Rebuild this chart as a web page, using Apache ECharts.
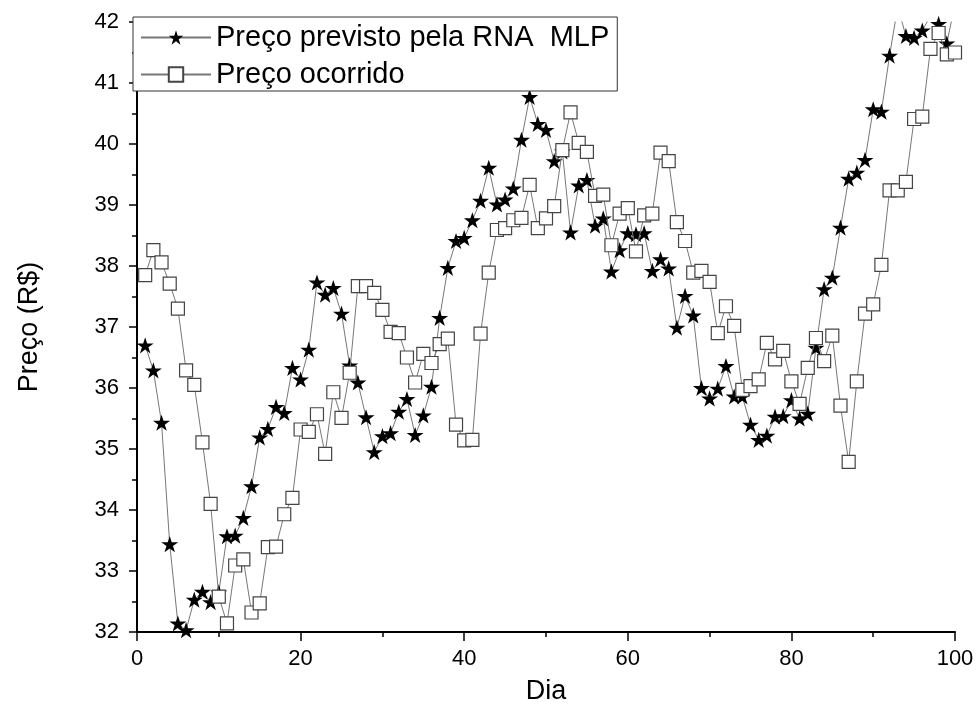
<!DOCTYPE html>
<html>
<head>
<meta charset="utf-8">
<script src="https://cdn.jsdelivr.net/npm/echarts@6/dist/echarts.min.js"></script>
<style>
html,body{margin:0;padding:0;background:#fff;}
#chart{width:980px;height:725px;}
</style>
</head>
<body>
<div id="chart"></div>
<script>
const days = [1,2,3,4,5,6,7,8,9,10,11,12,13,14,15,16,17,18,19,20,
  21,22,23,24,25,26,27,28,29,30,31,32,33,34,35,36,37,38,39,40,
  41,42,43,44,45,46,47,48,49,50,51,52,53,54,55,56,57,58,59,60,
  61,62,63,64,65,66,67,68,69,70,71,72,73,74,75,76,77,78,79,80,
  81,82,83,84,85,86,87,88,89,90,91,92,93,94,95,96,97,98,99,100];

const predicted = [36.70,36.29,35.43,33.44,32.14,32.03,32.53,32.66,32.49,32.65,
  33.57,33.58,33.87,34.39,35.19,35.33,35.69,35.59,36.33,36.14,
  36.63,37.73,37.53,37.64,37.22,36.37,36.09,35.52,34.95,35.21,
  35.26,35.61,35.82,35.23,35.55,36.02,37.15,37.97,38.41,38.46,
  38.75,39.07,39.61,39.01,39.09,39.27,40.07,40.77,40.33,40.23,
  39.72,39.88,38.55,39.32,39.41,38.66,38.78,37.91,38.26,38.54,
  38.52,38.54,37.92,38.11,37.96,36.99,37.51,37.19,36.00,35.83,
  35.99,36.36,35.86,35.86,35.40,35.15,35.22,35.53,35.54,35.80,
  35.50,35.58,36.66,37.62,37.81,38.63,39.43,39.53,39.74,40.57,
  40.53,41.45,42.25,41.77,41.74,41.86,42.10,41.97,41.65,42.30];

const observed = [37.85,38.26,38.06,37.71,37.30,36.29,36.05,35.11,34.10,32.58,
  32.14,33.09,33.19,32.32,32.47,33.39,33.40,33.93,34.20,35.32,
  35.28,35.57,34.92,35.93,35.51,36.25,37.67,37.67,37.56,37.28,
  36.92,36.90,36.50,36.09,36.56,36.41,36.72,36.81,35.40,35.14,
  35.15,36.89,37.89,38.59,38.62,38.75,38.79,39.33,38.62,38.78,
  38.98,39.90,40.52,40.02,39.87,39.15,39.17,38.34,38.86,38.95,
  38.24,38.83,38.86,39.86,39.72,38.72,38.41,37.89,37.92,37.74,
  36.90,37.34,37.02,35.97,36.03,36.14,36.74,36.47,36.61,36.11,
  35.74,36.33,36.82,36.44,36.86,35.71,34.79,36.11,37.22,37.37,
  38.02,39.24,39.24,39.38,40.41,40.45,41.56,41.82,41.47,41.50];

const seriesNames = ['Preço previsto pela RNA  MLP', 'Preço ocorrido'];
const xTitle = 'Dia';
const yTitle = 'Preço (R$)';

const FONT = "'Liberation Sans', Arial, sans-serif";
const STAR = 'path://M50,0 L61.2,34.5 L97.6,34.5 L68.2,55.9 L79.4,90.5 L50,69.1 L20.6,90.5 L31.8,55.9 L2.4,34.5 L38.8,34.5 Z';

const chart = echarts.init(document.getElementById('chart'), null, {renderer: 'canvas'});
chart.setOption({
  backgroundColor: '#ffffff',
  animation: false,
  textStyle: {fontFamily: FONT},
  grid: {left: 137, right: 25, top: 22, bottom: 93, containLabel: false},
  legend: {
    left: 133, top: 17, orient: 'vertical',
    padding: [5, 8, 1, 7],
    itemWidth: 70, itemHeight: 18, itemGap: 6,
    borderColor: '#333', borderWidth: 1, borderRadius: 0,
    backgroundColor: '#fff',
    textStyle: {fontSize: 29, color: '#000', fontFamily: FONT, lineHeight: 31},
    data: seriesNames
  },
  xAxis: {
    type: 'value', min: 0, max: 100, interval: 20,
    name: xTitle, nameLocation: 'middle', nameGap: 46,
    nameTextStyle: {fontSize: 27, color: '#000', fontFamily: FONT},
    axisLine: {show: true, onZero: false, lineStyle: {color: '#000', width: 2}},
    axisTick: {show: true, inside: false, length: 9, lineStyle: {color: '#000', width: 1.5}},
    minorTick: {show: true, splitNumber: 2, length: 5, lineStyle: {color: '#000', width: 1.5}},
    axisLabel: {fontSize: 22, color: '#000', margin: 16, fontFamily: FONT},
    splitLine: {show: false}
  },
  yAxis: {
    type: 'value', min: 32, max: 42, interval: 1,
    name: yTitle, nameLocation: 'middle', nameGap: 94, nameRotate: 90,
    nameTextStyle: {fontSize: 27, color: '#000', fontFamily: FONT},
    axisLine: {show: true, onZero: false, lineStyle: {color: '#000', width: 2}},
    axisTick: {show: true, inside: false, length: 8, lineStyle: {color: '#000', width: 1.5}},
    minorTick: {show: true, splitNumber: 2, length: 5, lineStyle: {color: '#000', width: 1.5}},
    axisLabel: {fontSize: 22, color: '#000', margin: 18, fontFamily: FONT},
    splitLine: {show: false}
  },
  series: [
    {
      name: seriesNames[0], type: 'line', clip: true,
      data: days.map((d, i) => [d, predicted[i]]),
      symbol: STAR, symbolSize: 17, symbolKeepAspect: true,
      itemStyle: {color: '#000', borderWidth: 0},
      lineStyle: {color: '#777', width: 1},
      z: 2
    },
    {
      name: seriesNames[1], type: 'line', clip: true,
      data: days.map((d, i) => [d, observed[i]]),
      symbol: 'rect', symbolSize: 13,
      itemStyle: {color: '#fff', borderColor: '#444', borderWidth: 1.2},
      lineStyle: {color: '#777', width: 1},
      z: 3
    }
  ]
});
</script>
</body>
</html>
